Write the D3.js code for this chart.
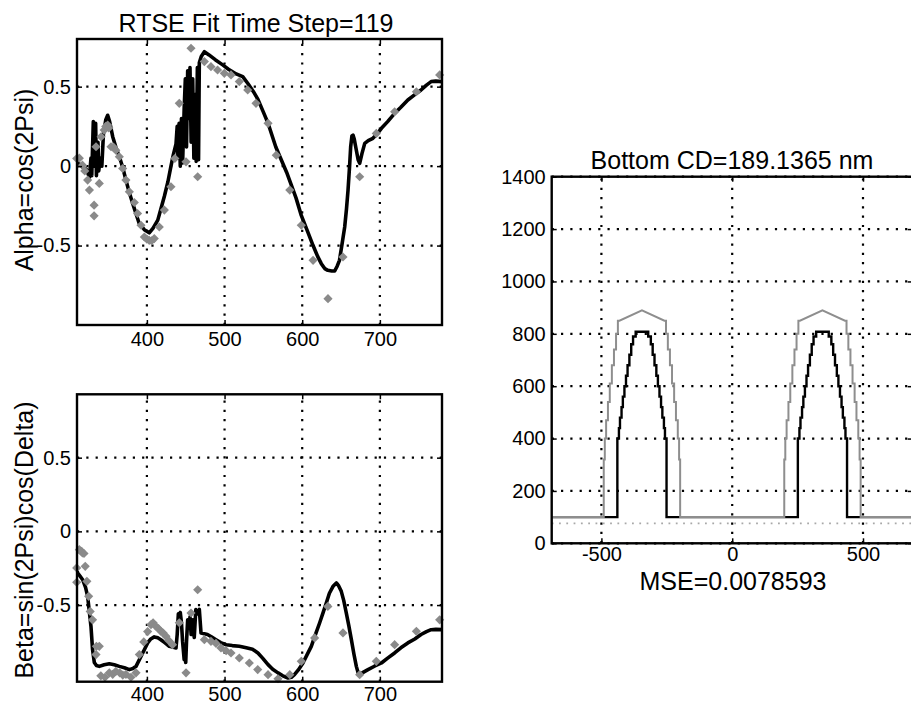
<!DOCTYPE html>
<html><head><meta charset="utf-8">
<script src="https://cdn.jsdelivr.net/npm/d3@7"></script>
<style>
body{margin:0;background:#fff}
svg text{font-family:"Liberation Sans",Arial,Helvetica,sans-serif;fill:#000}
</style>
</head><body>
<svg id="chart" width="911" height="704"></svg>
<script>
// ---------------- DATA ----------------
const wlTicks = [400, 500, 600, 700];
const wlTickLabels = ["400", "500", "600", "700"];
const ellTicks = [-0.5, 0, 0.5];
const ellTickLabels = ["-0.5", "0", "0.5"];
const posTicks = [-500, 0, 500];
const posTickLabels = ["-500", "0", "500"];
const heightTicks = [0, 200, 400, 600, 800, 1000, 1200, 1400];
const heightTickLabels = ["0", "200", "400", "600", "800", "1000", "1200", "1400"];

// Alpha = cos(2Psi): fitted (black line)
const alphaFit = [[310,0.04],[313,0.01],[318,-0.01],[322,-0.02],[326,-0.07],[328,0.05],[329,-0.06],[331,0.28],[332,0.0],[334,0.27],[335,-0.06],[337,0.15],[338,-0.03],[340,0.05],[342,0.0],[344,0.2],[347,0.29],[349.5,0.32],[352,0.28],[356,0.185],[360,0.12],[364.5,0.06],[369,-0.01],[373,-0.088],[377,-0.16],[381.7,-0.235],[386,-0.3],[390,-0.36],[396.7,-0.40],[403,-0.42],[408,-0.39],[414,-0.34],[418,-0.27],[422.5,-0.19],[427,-0.1],[431,0.0],[434,0.07],[437.5,0.14],[439,0.25],[440,0.05],[441.5,0.27],[443,0.0],[444.5,0.3],[446,0.02],[448,0.36],[449.5,0.55],[451,0.12],[452.5,0.6],[454,0.3],[455.5,0.62],[457,0.15],[459,0.55],[460.5,0.05],[462,0.45],[463.5,0.03],[465,0.62],[466.5,0.04],[467.5,0.65],[470,0.69],[474,0.72],[480,0.70],[488,0.67],[497.6,0.637],[505,0.61],[515,0.58],[523.4,0.563],[530,0.52],[537,0.47],[543,0.42],[550,0.34],[556,0.27],[566,0.12],[573,0.04],[580,-0.04],[586,-0.12],[592,-0.2],[598.8,-0.31],[606,-0.40],[614,-0.50],[620,-0.57],[624.6,-0.614],[629,-0.645],[633,-0.656],[638,-0.66],[641.8,-0.66],[645,-0.63],[648,-0.593],[651,-0.5],[654.7,-0.383],[657,-0.27],[659,-0.151],[661,0.0],[662.4,0.122],[664,0.19],[665.4,0.195],[667,0.17],[669.7,0.10],[672,0.04],[674,0.017],[677,0.08],[680.5,0.143],[685,0.16],[691,0.175],[696,0.2],[702,0.238],[710,0.28],[719,0.332],[727,0.37],[736,0.416],[745,0.45],[753,0.479],[760,0.51],[766,0.532],[772,0.535],[780,0.532]];

// Alpha measured (grey diamonds)
const alphaMeas = [[309.6,0.048],[313,0.05],[317,0.006],[320,-0.03],[323.7,-0.088],[326,-0.151],[332,-0.246],[332,-0.313],[334.5,0.122],[338.7,-0.109],[341,0.185],[345,0.227],[347,0.25],[349.5,0.259],[351,0.24],[353.8,0.122],[357,0.12],[360,0.10],[364.5,0.059],[368.8,-0.015],[373,-0.088],[377.4,-0.162],[383.8,-0.229],[388,-0.298],[392.4,-0.372],[396.7,-0.446],[400,-0.46],[403,-0.467],[406,-0.47],[409.5,-0.456],[416,-0.383],[422.5,-0.277],[431,-0.13],[436,0.048],[441.7,0.395],[450.4,0.027],[456.8,0.742],[465.4,-0.067],[474,0.658],[482.5,0.626],[491,0.605],[499.7,0.584],[508.3,0.574],[519,0.532],[529.8,0.479],[540.5,0.395],[556,0.269],[566.6,0.069],[584,-0.151],[598.8,-0.372],[614,-0.593],[633.2,-0.834],[652.5,-0.572],[674,-0.067],[695.4,0.206],[719,0.342],[747,0.468],[777,0.574]];

// Beta = sin(2Psi)cos(Delta): fitted (black line)
const betaFit = [[310,-0.27],[311,-0.282],[317.3,-0.328],[321,-0.38],[323.7,-0.441],[326,-0.55],[328,-0.645],[330,-0.80],[332.3,-0.89],[335,-0.91],[338.7,-0.916],[345,-0.905],[351.6,-0.898],[358,-0.905],[364.5,-0.916],[371,-0.925],[377.4,-0.938],[382,-0.93],[386,-0.916],[392.4,-0.848],[397,-0.8],[401,-0.757],[405,-0.73],[409.5,-0.716],[414,-0.722],[418,-0.735],[423,-0.755],[428.8,-0.78],[433,-0.785],[437.5,-0.791],[439,-0.7],[440.5,-0.56],[442,-0.6],[443,-0.55],[444.5,-0.62],[446,-0.75],[448,-0.87],[449,-0.8],[450,-0.89],[451,-0.75],[452.5,-0.60],[454,-0.65],[455.5,-0.58],[457,-0.70],[459,-0.6],[461,-0.72],[463,-0.53],[465,-0.56],[467.5,-0.53],[469.7,-0.69],[474,-0.695],[478,-0.70],[483,-0.715],[489,-0.735],[495,-0.755],[502,-0.769],[510,-0.775],[519,-0.78],[528,-0.79],[536,-0.80],[543,-0.825],[549,-0.86],[556,-0.904],[562,-0.935],[568.8,-0.96],[575,-0.98],[581.7,-0.995],[586,-0.99],[590,-0.972],[595,-0.94],[601,-0.893],[606,-0.84],[611.7,-0.78],[617,-0.70],[622.5,-0.62],[627,-0.55],[631,-0.486],[635,-0.42],[639.7,-0.373],[644,-0.35],[647,-0.37],[650.3,-0.407],[653.5,-0.47],[656.8,-0.554],[660,-0.64],[663.3,-0.735],[666.5,-0.83],[669.7,-0.916],[672,-0.96],[674,-0.972],[679,-0.955],[684.7,-0.938],[693,-0.915],[702,-0.893],[710,-0.86],[719,-0.825],[727,-0.79],[736,-0.757],[745,-0.73],[753,-0.70],[760,-0.68],[766,-0.667],[772,-0.665],[780,-0.667]];

// Beta measured (grey diamonds)
const betaMeas = [[309.6,-0.248],[309.6,-0.346],[313,-0.124],[316,-0.136],[317,-0.147],[319,-0.15],[320.6,-0.237],[322.7,-0.339],[325,-0.441],[327,-0.543],[330,-0.6],[334.5,-0.836],[335,-0.78],[338.7,-0.78],[340.7,-0.98],[346,-0.99],[351.6,-0.96],[356,-0.97],[360,-0.95],[365,-0.96],[369,-0.975],[373,-0.97],[379.5,-0.99],[386,-0.96],[390.3,-0.836],[396,-0.75],[401,-0.68],[405.3,-0.633],[408,-0.62],[411.7,-0.645],[415,-0.66],[418,-0.678],[421,-0.69],[424.6,-0.712],[428,-0.74],[433,-0.769],[441.7,-0.62],[450.4,-0.96],[456.8,-0.554],[465.4,-0.396],[474,-0.735],[482.5,-0.746],[489,-0.76],[495.4,-0.791],[502,-0.81],[508.3,-0.825],[519,-0.859],[531.9,-0.893],[542.7,-0.938],[556,-0.972],[568.8,-1.0],[584,-0.972],[598.8,-0.882],[616,-0.723],[633,-0.509],[652.5,-0.689],[674,-0.972],[695.4,-0.882],[719,-0.769],[747,-0.678],[777,-0.60]];

// Profile (right panel): line centres and left-edge vertices [half-width, height] (nm)
const lineCentres = [-345, 345];
const fitEdge = [[94,100],[94,400],[88,400],[88,440],[84,440],[84,480],[78,480],[78,520],[73,520],[73,560],[67,560],[67,600],[61,600],[61,640],[55,640],[55,680],[48,680],[48,720],[41,720],[41,760],[34,760],[34,790],[24,790],[24,808]];
const outerEdge = [[146,100],[146,320],[142,320],[142,400],[137,400],[137,470],[130,470],[130,540],[123,540],[123,610],[115,610],[115,680],[107,680],[107,740],[99,740],[99,800],[92,800],[92,850],[86,850],[0,890]];
const baseHeight = 100;
const substrateHeight = 76;
const posDomain = [-690, 690];

// ---------------- DRAW ----------------
const svg = d3.select("#chart");
const FONT = '"Liberation Sans",Arial,Helvetica,sans-serif';

function panel(o) {
  const x = d3.scaleLinear().domain(o.xd).range(o.xr);
  const y = d3.scaleLinear().domain(o.yd).range(o.yr);
  const g = svg.append("g");
  const x0 = o.xr[0], x1 = o.xr[1], y0 = o.yr[1], y1 = o.yr[0];
  const id = "clip" + o.name;
  svg.append("clipPath").attr("id", id).append("rect")
    .attr("x", x0).attr("y", y0).attr("width", x1 - x0).attr("height", y1 - y0);
  // grid
  const grid = g.append("g").attr("stroke", "#000").attr("stroke-width", 2.2)
    .attr("stroke-dasharray", "2.2,7.1").attr("fill", "none");
  o.xt.forEach(v => grid.append("line").attr("x1", x(v)).attr("x2", x(v)).attr("y1", y1).attr("y2", y0));
  o.yt.forEach(v => grid.append("line").attr("y1", y(v)).attr("y2", y(v)).attr("x1", x0).attr("x2", x1));
  const content = g.append("g").attr("clip-path", `url(#${id})`);
  o.draw(content, g, x, y);
  // axes
  const fmtX = d => o.xl[o.xt.indexOf(d)];
  const fmtY = d => o.yl[o.yt.indexOf(d)];
  const ax = [
    g.append("g").attr("transform", `translate(0,${y1})`).call(d3.axisBottom(x).tickValues(o.xt).tickFormat(fmtX).tickSize(-5).tickPadding(o.xpad)),
    g.append("g").attr("transform", `translate(${x0},0)`).call(d3.axisLeft(y).tickValues(o.yt).tickFormat(fmtY).tickSize(-5).tickPadding(6)),
    g.append("g").attr("transform", `translate(0,${y0})`).call(d3.axisTop(x).tickValues(o.xt).tickFormat("").tickSize(-5)),
    g.append("g").attr("transform", `translate(${x1},0)`).call(d3.axisRight(y).tickValues(o.yt).tickFormat("").tickSize(-5))
  ];
  ax.forEach(a => {
    a.select(".domain").remove();
    a.attr("font-size", 20).attr("font-family", FONT);
    a.selectAll("line").attr("stroke", "#000").attr("stroke-width", 1.5);
    a.selectAll("text").attr("fill", "#000");
  });
  g.append("rect").attr("x", x0).attr("y", y0).attr("width", x1 - x0).attr("height", y1 - y0)
    .attr("fill", "none").attr("stroke", "#000").attr("stroke-width", 2.4);
  return {x, y, g};
}

function curvePanel(fit, meas) {
  return (content, g, x, y) => {
    content.append("path").datum(fit)
      .attr("d", d3.line().x(d => x(d[0])).y(d => y(d[1])))
      .attr("fill", "none").attr("stroke", "#000").attr("stroke-width", 3.6)
      .attr("stroke-linejoin", "round");
    const sym = d3.symbol(d3.symbolSquare, 42);
    g.append("g").selectAll("path").data(meas).join("path")
      .attr("d", sym)
      .attr("transform", d => `translate(${x(d[0])},${y(d[1])}) rotate(45)`)
      .attr("fill", "#8a8a8a");
  };
}

panel({name: "alpha", xd: [310, 780], xr: [77, 442], yd: [-1, 0.8], yr: [325, 39],
  xt: wlTicks, xl: wlTickLabels, yt: ellTicks, yl: ellTickLabels, xpad: 7,
  draw: curvePanel(alphaFit, alphaMeas)});

panel({name: "beta", xd: [310, 780], xr: [77, 442], yd: [-1.02, 0.93], yr: [681.7, 394.3],
  xt: wlTicks, xl: wlTickLabels, yt: ellTicks, yl: ellTickLabels, xpad: 5,
  draw: curvePanel(betaFit, betaMeas)});

function profilePoints(edge) {
  const pts = [[posDomain[0], baseHeight]];
  lineCentres.forEach(c => {
    edge.forEach(e => pts.push([c - e[0], e[1]]));
    edge.slice().reverse().forEach(e => pts.push([c + e[0], e[1]]));
  });
  pts.push([posDomain[1], baseHeight]);
  return pts;
}

panel({name: "profile", xd: posDomain, xr: [551.7, 912.7], yd: [0, 1400], yr: [543.3, 176.7],
  xt: posTicks, xl: posTickLabels, yt: heightTicks, yl: heightTickLabels, xpad: 3,
  draw: (content, g, x, y) => {
    const line = d3.line().x(d => x(d[0])).y(d => y(d[1]));
    content.append("path").datum([[posDomain[0], substrateHeight], [posDomain[1], substrateHeight]])
      .attr("d", line).attr("fill", "none").attr("stroke", "#a8a8a8")
      .attr("stroke-width", 1.8).attr("stroke-dasharray", "1.8,5.5");
    content.append("path").datum(profilePoints(fitEdge))
      .attr("d", line).attr("fill", "none").attr("stroke", "#000").attr("stroke-width", 2.4);
    content.append("path").datum(profilePoints(outerEdge))
      .attr("d", line).attr("fill", "none").attr("stroke", "#8e8e8e").attr("stroke-width", 2);
  }});

// titles and labels
function txt(s, x, y, size, rot) {
  const t = svg.append("text").text(s).attr("font-size", size).attr("font-family", FONT)
    .attr("text-anchor", "middle");
  if (rot) t.attr("transform", `translate(${x},${y}) rotate(-90)`);
  else t.attr("x", x).attr("y", y);
  return t;
}
txt("RTSE Fit Time Step=119", 256, 31.5, 25);
txt("Bottom CD=189.1365 nm", 732, 168.5, 25);
txt("MSE=0.0078593", 733, 590, 25);
txt("Alpha=cos(2Psi)", 33, 180, 25, true);
txt("Beta=sin(2Psi)cos(Delta)", 33, 540, 25, true);
</script>
</body></html>
